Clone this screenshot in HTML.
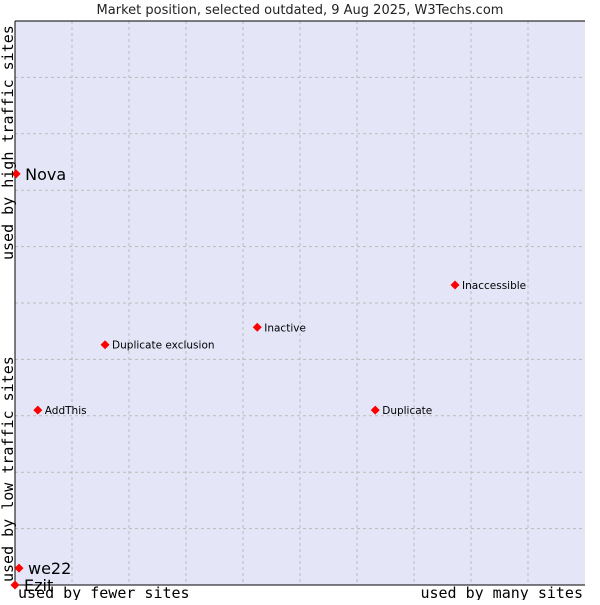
<!DOCTYPE html>
<html><head><meta charset="utf-8"><style>
body{margin:0;background:#fff;}
svg text{font-family:"DejaVu Sans","Liberation Sans",sans-serif;}
.mono{font-family:"DejaVu Sans Mono","Liberation Mono",monospace;}
</style></head><body>
<svg id="chart" width="600" height="600">
<text x="300" y="14" text-anchor="middle" font-size="13" fill="#222">Market position, selected outdated, 9 Aug 2025, W3Techs.com</text>
<rect x="15" y="21" width="570" height="564" fill="#e4e6f8"/>
<g id="grid"></g>
<line x1="15" y1="21" x2="15" y2="585" stroke="#000"/>
<line x1="15" y1="585" x2="585" y2="585" stroke="#000"/>
<line x1="15" y1="21" x2="585" y2="21" stroke="#000"/>
<g id="points"></g>
<text class="mono" x="18" y="598" font-size="15" fill="#000">used by fewer sites</text>
<text class="mono" x="583" y="598" font-size="15" text-anchor="end" fill="#000">used by many sites</text>
<text class="mono" transform="translate(13,582) rotate(-90)" font-size="15" fill="#000">used by low traffic sites</text>
<text class="mono" transform="translate(13,260) rotate(-90)" font-size="15" fill="#000">used by high traffic sites</text>
</svg>
<script>
const names=["Nova","Inaccessible","Inactive","Duplicate exclusion","AddThis","Duplicate","we22","Ezit"];
const xVals=[0.2,77.2,42.5,15.8,4.0,63.2,0.7,0];
const yVals=[72.9,53.2,45.7,42.6,31.0,31.0,3.0,0];
const bigLabel=[true,false,false,false,false,false,true,true];
const L=15,R=585,T=21,B=585;
const sx=v=>L+v/100*(R-L);
const sy=v=>B-v/100*(B-T);
const NS="http://www.w3.org/2000/svg";
const grid=document.getElementById('grid');
for(let i=1;i<10;i++){
 const x=L+i*57;
 const l=document.createElementNS(NS,'line');
 
 
 l.setAttribute('x1',x);l.setAttribute('x2',x);l.setAttribute('y1',T);l.setAttribute('y2',B);
 l.setAttribute('stroke','#bbb');l.setAttribute('stroke-dasharray','3,3');
 grid.appendChild(l);
 const y=T+i*56.4;
 const h=document.createElementNS(NS,'line');
 
 
 h.setAttribute('x1',L);h.setAttribute('x2',R);h.setAttribute('y1',y);h.setAttribute('y2',y);
 h.setAttribute('stroke','#bbb');h.setAttribute('stroke-dasharray','3,3');
 grid.appendChild(h);
}
const pg=document.getElementById('points');
names.forEach((n,i)=>{
 const x=sx(xVals[i]),y=sy(yVals[i]);
 const p=document.createElementNS(NS,'path');
 
 
 p.setAttribute('d',`M${x} ${y-4.5}L${x+4.5} ${y}L${x} ${y+4.5}L${x-4.5} ${y}Z`);
 p.setAttribute('fill','#f00');
 pg.appendChild(p);
 const t=document.createElementNS(NS,'text');
 
 
 const big=bigLabel[i];
 t.setAttribute('x',x+(big?9:7));
 t.setAttribute('y',y+(big?6:4));
 t.setAttribute('font-size',big?16:10.5);
 t.setAttribute('fill','#000');
 t.textContent=n;
 pg.appendChild(t);
});
</script>
</body></html>
